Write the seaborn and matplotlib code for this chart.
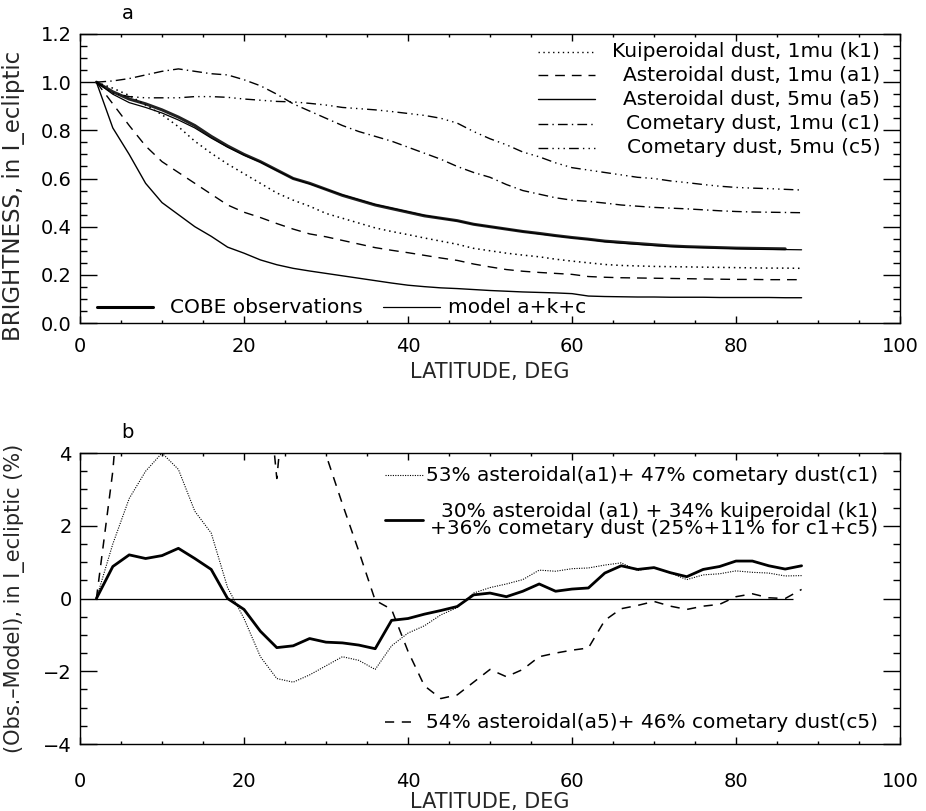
import matplotlib
matplotlib.use("Agg")
import matplotlib.pyplot as plt
from matplotlib.lines import Line2D
from matplotlib.ticker import MultipleLocator
import seaborn as sns

# ── Data ──────────────────────────────────────────────────────────────────────

LATITUDE = [2, 4, 6, 8, 10, 12, 14, 16, 18, 20,
            22, 24, 26, 28, 30, 32, 34, 36, 38, 40,
            42, 44, 46, 48, 50, 52, 54, 56, 58, 60,
            62, 64, 66, 68, 70, 72, 74, 76, 78, 80,
            82, 84, 86, 88]

# panel a: brightness normalised to the ecliptic value
K1 = [1.0, 0.975, 0.945, 0.905, 0.865, 0.815, 0.755, 0.705, 0.66, 0.62,
      0.58, 0.54, 0.51, 0.485, 0.455, 0.435, 0.415, 0.395, 0.38, 0.367,
      0.353, 0.34, 0.327, 0.31, 0.30, 0.29, 0.282, 0.275, 0.265, 0.257,
      0.25, 0.243, 0.239, 0.237, 0.235, 0.234, 0.233, 0.232, 0.231, 0.23,
      0.229, 0.228, 0.228, 0.227]
A1 = [1.0, 0.91, 0.82, 0.735, 0.67, 0.625, 0.58, 0.535, 0.49, 0.46,
      0.438, 0.413, 0.39, 0.37, 0.358, 0.343, 0.328, 0.313, 0.302, 0.292,
      0.281, 0.27, 0.26, 0.245, 0.233, 0.222, 0.215, 0.21, 0.206, 0.202,
      0.193, 0.19, 0.188, 0.187, 0.186, 0.185, 0.184, 0.183, 0.182, 0.181,
      0.181, 0.18, 0.18, 0.18]
A5 = [1.0, 0.81, 0.70, 0.58, 0.50, 0.45, 0.40, 0.36, 0.315, 0.29,
      0.262, 0.242, 0.227, 0.216, 0.206, 0.196, 0.186, 0.176, 0.166, 0.157,
      0.151, 0.146, 0.143, 0.139, 0.135, 0.132, 0.129, 0.127, 0.125, 0.122,
      0.112, 0.110, 0.109, 0.108, 0.108, 0.107, 0.107, 0.107, 0.106, 0.106,
      0.106, 0.106, 0.105, 0.105]
C1 = [1.0, 1.005, 1.015, 1.03, 1.045, 1.055, 1.045, 1.035, 1.03, 1.01,
      0.985, 0.95, 0.91, 0.88, 0.85, 0.82, 0.795, 0.775, 0.755, 0.73,
      0.705, 0.68, 0.65, 0.625, 0.605, 0.575, 0.55, 0.535, 0.52, 0.51,
      0.505, 0.498, 0.49, 0.485, 0.48, 0.477, 0.474, 0.47, 0.466, 0.463,
      0.461, 0.46, 0.459, 0.458]
C5 = [1.0, 0.955, 0.94, 0.935, 0.935, 0.935, 0.94, 0.94, 0.937, 0.93,
      0.925, 0.92, 0.918, 0.912, 0.905, 0.895, 0.89, 0.885, 0.878, 0.87,
      0.862, 0.85, 0.83, 0.795, 0.765, 0.74, 0.71, 0.69, 0.665, 0.645,
      0.635, 0.625, 0.615, 0.605, 0.60, 0.59, 0.583, 0.575, 0.568, 0.563,
      0.56, 0.558, 0.555, 0.552]
COBE = [1.0, 0.96, 0.93, 0.91, 0.885, 0.855, 0.82, 0.775, 0.735, 0.70,
        0.67, 0.635, 0.60, 0.58, 0.555, 0.53, 0.51, 0.49, 0.475, 0.46,
        0.445, 0.435, 0.425, 0.41, 0.40, 0.39, 0.38, 0.372, 0.363, 0.355,
        0.348, 0.34, 0.335, 0.33, 0.325, 0.32, 0.317, 0.315, 0.313, 0.311,
        0.31, 0.309, 0.308]
MODEL = [1.0, 0.95, 0.915, 0.895, 0.872, 0.843, 0.81, 0.768, 0.73, 0.697,
         0.668, 0.633, 0.60, 0.578, 0.555, 0.532, 0.512, 0.492, 0.477, 0.462,
         0.447, 0.435, 0.424, 0.41, 0.40, 0.39, 0.38, 0.37, 0.362, 0.354,
         0.347, 0.338, 0.332, 0.327, 0.322, 0.318, 0.315, 0.313, 0.311, 0.309,
         0.307, 0.306, 0.305, 0.304]

# panel b: (obs - model) residuals in per cent
MIX_A1_C1 = [0.0, 1.5, 2.75, 3.5, 4.0, 3.55, 2.4, 1.8, 0.3, -0.55,
             -1.6, -2.2, -2.3, -2.1, -1.85, -1.6, -1.7, -1.95, -1.3, -0.95,
             -0.75, -0.45, -0.25, 0.15, 0.3, 0.4, 0.52, 0.78, 0.75, 0.82,
             0.84, 0.92, 0.98, 0.77, 0.85, 0.7, 0.52, 0.65, 0.68, 0.76,
             0.72, 0.7, 0.62, 0.63]
MIX_AKC = [0.0, 0.88, 1.2, 1.1, 1.18, 1.38, 1.1, 0.8, 0.0, -0.3,
           -0.9, -1.35, -1.3, -1.1, -1.2, -1.22, -1.28, -1.38, -0.6, -0.55,
           -0.43, -0.33, -0.22, 0.1, 0.15, 0.05, 0.2, 0.4, 0.2, 0.26,
           0.29, 0.7, 0.9, 0.8, 0.85, 0.71, 0.6, 0.8, 0.88, 1.03,
           1.03, 0.9, 0.81, 0.9]
MIX_A5_C5 = [0.0, 3.5, 9.0, 12.0, 14.0, 14.0, 12.0, 10.0, 9.0, 8.0,
             8.0, 3.3, 8.0, 5.3, 3.95, 2.6, 1.3, -0.05, -0.3, -1.45,
             -2.4, -2.75, -2.65, -2.3, -1.95, -2.15, -1.95, -1.6, -1.5, -1.42,
             -1.36, -0.6, -0.28, -0.19, -0.08, -0.21, -0.3, -0.21, -0.16, 0.05,
             0.13, 0.02, 0.0, 0.25]

# ── Styles ────────────────────────────────────────────────────────────────────

DOT = (0, (1, 2.5))
DASH = (0, (7, 5))
DASHDOT = (0, (7, 3, 1, 3))
DASHDOT3 = (0, (7, 3, 1, 3, 1, 3, 1, 3))

sns.set_theme(style="ticks")
plt.rcParams["font.family"] = ["DejaVu Sans"]
plt.rcParams.update({
    "axes.edgecolor": "black",
    "axes.linewidth": 1.0,
    "xtick.color": "black",
    "ytick.color": "black",
    "xtick.labelsize": 14,
    "ytick.labelsize": 14,
    "axes.labelsize": 15,
    "text.color": "black",
})


def style_axes(ax, ylim, ymajor, yminor, xpad):
    ax.set_xlim(0, 100)
    ax.set_ylim(*ylim)
    ax.xaxis.set_major_locator(MultipleLocator(20))
    ax.xaxis.set_minor_locator(MultipleLocator(5))
    ax.yaxis.set_major_locator(MultipleLocator(ymajor))
    ax.yaxis.set_minor_locator(MultipleLocator(yminor))
    ax.tick_params(axis="both", which="both", direction="in",
                   top=True, right=True, width=1.0)
    ax.tick_params(axis="x", which="major", length=5, pad=xpad)
    ax.tick_params(axis="x", which="minor", length=2.5)
    ax.tick_params(axis="y", which="major", length=12, pad=6)
    ax.tick_params(axis="y", which="minor", length=5)
    ax.set_xlabel("LATITUDE, DEG")


def key(ax, x0, x1, y, tx, text, ha="right", **line_kw):
    ax.add_line(Line2D([x0, x1], [y, y], transform=ax.transAxes,
                       color="black", **line_kw))
    ax.text(tx, y, text, transform=ax.transAxes, ha=ha, va="center",
            fontsize=14.5, multialignment="right", linespacing=0.85)


def curve(ax, x, y, color="black", **kw):
    sns.lineplot(x=x, y=y, ax=ax, color=color, legend=False,
                 sort=False, **kw)


fig = plt.figure(figsize=(9.26, 8.11), dpi=100)
ax_a = fig.add_axes([0.0864, 0.6017, 0.8855, 0.3564])
ax_b = fig.add_axes([0.0864, 0.0826, 0.8855, 0.3588])

# ── Panel a ───────────────────────────────────────────────────────────────────

curve(ax_a, LATITUDE[:len(COBE)], COBE, lw=2.2, color="#222222")
curve(ax_a, LATITUDE, MODEL, lw=0.9)
curve(ax_a, LATITUDE, K1, lw=1.1, linestyle=DOT)
curve(ax_a, LATITUDE, A1, lw=1.0, linestyle=DASH)
curve(ax_a, LATITUDE, A5, lw=1.0)
curve(ax_a, LATITUDE, C1, lw=1.0, linestyle=DASHDOT)
curve(ax_a, LATITUDE, C5, lw=1.0, linestyle=DASHDOT3)

style_axes(ax_a, (0, 1.2), 0.2, 0.05, xpad=10)
ax_a.set_ylabel("BRIGHTNESS, in I_ecliptic", fontsize=16.5)
ax_a.yaxis.set_label_coords(-0.067, 0.44)
ax_a.xaxis.set_label_coords(0.5, -0.135)
ax_a.text(0.058, 1.07, "a", transform=ax_a.transAxes, ha="center",
          va="center", fontsize=14)

rows_a = [
    ("Kuiperoidal dust, 1mu (k1)", DOT),
    ("Asteroidal dust, 1mu (a1)", DASH),
    ("Asteroidal dust, 5mu (a5)", "-"),
    ("Cometary dust, 1mu (c1)", DASHDOT),
    ("Cometary dust, 5mu (c5)", DASHDOT3),
]
for (label, ls), y in zip(rows_a, [0.938, 0.858, 0.775, 0.689, 0.606]):
    key(ax_a, 0.5585, 0.628, y, 0.976, label, lw=1.0, linestyle=ls)

key(ax_a, 0.021, 0.089, 0.055, 0.11, "COBE observations", ha="left",
    lw=2.2)
key(ax_a, 0.37, 0.439, 0.055, 0.449, "model a+k+c", ha="left", lw=0.9)

# ── Panel b ───────────────────────────────────────────────────────────────────

ax_b.hlines(0, LATITUDE[0], LATITUDE[-1] - 1, color="black", lw=0.9)
curve(ax_b, LATITUDE, MIX_A1_C1, lw=0.8, linestyle=(0, (1, 1.2)))
curve(ax_b, LATITUDE, MIX_A5_C5, lw=1.1, linestyle=(0, (6, 5)))
curve(ax_b, LATITUDE, MIX_AKC, lw=2.0)

style_axes(ax_b, (-4, 4), 2, 0.5, xpad=20)
ax_b.set_ylabel("(Obs.\u2013Model), in I_ecliptic (%)")
ax_b.yaxis.set_label_coords(-0.067, 0.5)
ax_b.xaxis.set_label_coords(0.5, -0.165)
ax_b.text(0.058, 1.07, "b", transform=ax_b.transAxes, ha="center",
          va="center", fontsize=14)

key(ax_b, 0.372, 0.418, 0.924, 0.973,
    "53% asteroidal(a1)+ 47% cometary dust(c1)",
    lw=0.8, linestyle=(0, (1, 1.2)))
key(ax_b, 0.372, 0.418, 0.77, 0.973,
    "30% asteroidal (a1) + 34% kuiperoidal (k1)\n"
    "+36% cometary dust (25%+11% for c1+c5)", lw=2.0)
key(ax_b, 0.372, 0.411, 0.0756, 0.973,
    "54% asteroidal(a5)+ 46% cometary dust(c5)",
    lw=1.1, linestyle=(0, (6, 5)))

fig.savefig("out.png", dpi=100)
